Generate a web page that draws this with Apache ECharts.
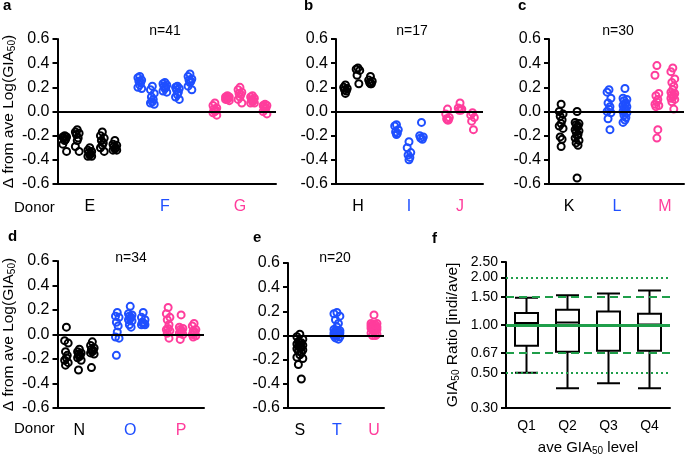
<!DOCTYPE html>
<html><head><meta charset="utf-8">
<script src="https://cdn.jsdelivr.net/npm/echarts@6/dist/echarts.min.js"></script>
<style>html,body{margin:0;padding:0;background:#fff}#c{width:685px;height:458px}</style>
</head><body><div id="c"></div>
<script>
// ---------- data ----------
const donorsA = ['E','F','G'];
const A_E = [[-0.20,-0.21,-0.21,-0.22,-0.23,-0.24,-0.27,-0.33],[-0.15,-0.17,-0.18,-0.19,-0.22,-0.24,-0.29,-0.33],[-0.30,-0.32,-0.33,-0.34,-0.35,-0.36,-0.37,-0.37],[-0.17,-0.20,-0.22,-0.24,-0.26,-0.28,-0.30,-0.33],[-0.24,-0.27,-0.28,-0.29,-0.30,-0.31,-0.32,-0.32]];
const A_F = [[0.29,0.28,0.26,0.25,0.24,0.22,0.20,0.19],[0.21,0.18,0.15,0.12,0.10,0.08,0.07,0.06],[0.24,0.23,0.22,0.21,0.20,0.19,0.17,0.16],[0.21,0.20,0.19,0.18,0.16,0.14,0.12,0.10],[0.31,0.29,0.27,0.26,0.25,0.24,0.21,0.18]];
const A_G = [[0.07,0.05,0.03,0.02,0.01,0.00,-0.01,-0.03],[0.13,0.12,0.12,0.11,0.11,0.10,0.10,0.09],[0.20,0.18,0.16,0.15,0.14,0.12,0.10,0.07],[0.13,0.12,0.11,0.10,0.09,0.08,0.07,0.07],[0.06,0.05,0.05,0.04,0.03,0.02,0.00,-0.02]];

const donorsB = ['H','I','J'];
const B_H = [[0.22,0.20,0.19,0.18,0.17,0.15],[0.36,0.35,0.34,0.30,0.23],[0.29,0.26,0.25,0.24,0.23,0.23]];
const B_I = [[-0.11,-0.12,-0.15,-0.17,-0.18,-0.19],[-0.25,-0.30,-0.34,-0.36,-0.38,-0.40],[-0.09,-0.20,-0.21,-0.22,-0.23]];
const B_J = [[0.02,-0.02,-0.05,-0.06,-0.07,-0.07],[0.07,0.03,0.02,0.01,0.01],[-0.01,-0.03,-0.05,-0.08,-0.15]];

const donorsC = ['K','L','M'];
const C_K = [[0.06,0.00,-0.02,-0.04,-0.07,-0.10,-0.12,-0.14,-0.21,-0.23,-0.29],[0.00,-0.09,-0.10,-0.11,-0.12,-0.13,-0.15,-0.16,-0.17,-0.19,-0.20,-0.22,-0.24,-0.26,-0.28,-0.55]];
const C_L = [[0.18,0.16,0.11,0.07,0.04,0.02,0.00,-0.01,-0.06,-0.15],[0.19,0.11,0.10,0.09,0.07,0.06,0.05,0.04,0.03,0.02,0.01,0.00,-0.01,-0.03,-0.05,-0.07,-0.09]];
const C_M = [[0.38,0.30,0.15,0.13,0.10,0.08,0.06,0.05,0.04,-0.15,-0.22],[0.36,0.33,0.27,0.24,0.21,0.18,0.16,0.15,0.14,0.13,0.12,0.11,0.10,0.08,0.02]];

const donorsD = ['N','O','P'];
const D_N = [[0.06,-0.05,-0.07,-0.14,-0.17,-0.19,-0.21,-0.23,-0.25],[-0.12,-0.14,-0.15,-0.16,-0.17,-0.18,-0.19,-0.21,-0.29],[-0.06,-0.09,-0.11,-0.12,-0.13,-0.14,-0.15,-0.16,-0.27]];
const D_O = [[0.18,0.15,0.14,0.10,0.07,0.02,-0.02,-0.03,-0.17],[0.23,0.17,0.16,0.15,0.14,0.13,0.12,0.11,0.08,0.06],[0.18,0.14,0.12,0.10,0.09,0.09,0.08,0.08]];
const D_P = [[0.22,0.17,0.14,0.12,0.08,0.05,0.04,0.03,0.01,-0.03],[0.16,0.06,0.05,0.04,0.03,0.02,0.01,0.00,-0.04],[0.09,0.07,0.04,0.03,0.02,0.01,0.00,-0.01,-0.02]];

const donorsE = ['S','T','U'];
const E_S = [[0.01,-0.01,-0.03,-0.05,-0.06,-0.06,-0.07,-0.08,-0.09,-0.10,-0.10,-0.11,-0.12,-0.13,-0.14,-0.16,-0.18,-0.19,-0.24,-0.36]];
const E_T = [[0.19,0.18,0.16,0.13,0.10,0.07,0.05,0.04,0.04,0.03,0.03,0.02,0.02,0.01,0.01,0.00,0.00,-0.01,-0.02,-0.03]];
const E_U = [[0.17,0.10,0.10,0.09,0.09,0.08,0.08,0.07,0.07,0.07,0.06,0.06,0.05,0.05,0.04,0.03,0.02,0.01,0.00,0.00]];

const nLabels = ['n=41','n=17','n=30','n=34','n=20'];

const quartiles = ['Q1','Q2','Q3','Q4'];
// [min, Q1, median, Q3, max]
const boxQ1 = [0.50,0.74,1.03,1.19,1.49];
const boxQ2 = [0.40,0.68,1.04,1.25,1.54];
const boxQ3 = [0.43,0.69,1.00,1.22,1.58];
const boxQ4 = [0.40,0.69,1.01,1.18,1.65];
const ratioTicks = [0.30,0.50,0.67,1.00,1.50,2.00,2.50];
const solidRef = [1.00];
const dashedRef = [0.67,1.50];
const dottedRef = [0.50,2.00];

// ---------- style / layout ----------
const FONT = 'Liberation Sans, Arial, Helvetica, sans-serif';
const COLORS = ['#000000','#1f4fff','#ff3d9c'];
const GREEN = '#1f9e4a';
const panels = [
  {groups:[A_E,A_F,A_G], names:donorsA, grid:{left:57,top:39,width:219,height:145}, xmin:-0.43, xmax:2.48, step:0.167, jit:0.025, yName:true},
  {groups:[B_H,B_I,B_J], names:donorsB, grid:{left:336,top:39,width:147,height:145}, xmin:-0.43, xmax:2.45, step:0.245, jit:0.035},
  {groups:[C_K,C_L,C_M], names:donorsC, grid:{left:549,top:39,width:135,height:145}, xmin:-0.42, xmax:2.40, step:0.333, jit:0.04},
  {groups:[D_N,D_O,D_P], names:donorsD, grid:{left:57,top:261,width:147,height:147}, xmin:-0.43, xmax:2.45, step:0.255, jit:0.035, yName:true},
  {groups:[E_S,E_T,E_U], names:donorsE, grid:{left:288,top:263,width:96,height:145}, xmin:-0.32, xmax:2.27, step:0, jit:0.08}
];
const jitPattern = [0,-1,1,-0.5,0.5];

const grids = [], xAxes = [], yAxes = [], series = [];
const axisLineStyle = {color:'#000', width:2};

panels.forEach((p, gi) => {
  grids.push(Object.assign({containLabel:false}, p.grid));
  const rich = {};
  p.names.forEach((n,i)=>{ rich['d'+i] = {color:COLORS[i], fontSize:16, fontFamily:FONT}; });
  xAxes.push({
    gridIndex:gi, type:'value', min:p.xmin, max:p.xmax,
    axisLine:{show:true, onZero:false, lineStyle:axisLineStyle},
    axisTick:{show:false}, splitLine:{show:false},
    axisLabel:{show:true, customValues:[0,1,2], margin:15, fontSize:16, fontFamily:FONT,
      formatter:(v)=>{ const i=Math.round(v); return '{d'+i+'|'+p.names[i]+'}'; }, rich:rich}
  });
  const ya = {
    gridIndex:gi, type:'value', min:-0.6, max:0.6, interval:0.2,
    axisLine:{show:true, onZero:false, lineStyle:axisLineStyle},
    axisTick:{show:true, length:5, lineStyle:{color:'#000', width:2}},
    splitLine:{show:false},
    axisLabel:{margin:8, fontSize:16, color:'#000', fontFamily:FONT,
      formatter:(v)=> Math.abs(v)<1e-9 ? '0.0' : v.toFixed(1)}
  };
  if (p.yName) {
    Object.assign(ya, {
      name:'Δ from ave Log(GIA{sub|50})', nameLocation:'middle', nameRotate:90, nameGap:40,
      nameTextStyle:{fontSize:15.5, color:'#000', fontFamily:FONT,
        rich:{sub:{fontSize:10, fontFamily:FONT, color:'#000', verticalAlign:'bottom', padding:[7,0,0,0]}}}
    });
  }
  yAxes.push(ya);
  p.groups.forEach((cols, g) => {
    const data = [];
    cols.forEach((col, j) => {
      const cx = g + (j - (cols.length-1)/2) * p.step;
      col.forEach((v, k) => data.push([cx + jitPattern[k % 5]*p.jit, v]));
    });
    const s = {
      type:'scatter', xAxisIndex:gi, yAxisIndex:gi, data:data,
      symbol:'circle', symbolSize:7, silent:true, animation:false, z:3,
      itemStyle:{color:'rgba(0,0,0,0)', borderColor:COLORS[g], borderWidth:2, opacity:1}
    };
    if (g === 0) {
      s.markLine = {silent:true, symbol:['none','none'], animation:false, label:{show:false},
        lineStyle:{color:'#000', width:2, type:'solid'}, data:[{yAxis:0}]};
    }
    series.push(s);
  });
});

// panel f
const fi = 5;
grids.push({left:506, top:262, width:164, height:146});
xAxes.push({
  gridIndex:fi, type:'category', data:quartiles,
  axisLine:{show:true, onZero:false, lineStyle:axisLineStyle}, axisTick:{show:false},
  axisLabel:{fontSize:14, color:'#000', margin:11, fontFamily:FONT},
  name:'ave GIA{sub|50} level', nameLocation:'middle', nameGap:31,
  nameTextStyle:{fontSize:15, color:'#000', fontFamily:FONT,
    rich:{sub:{fontSize:10, fontFamily:FONT, color:'#000', verticalAlign:'bottom', padding:[7,0,0,0]}}}
});
yAxes.push({
  gridIndex:fi, type:'log', logBase:10, min:0.3, max:2.5,
  axisLine:{show:true, onZero:false, lineStyle:axisLineStyle},
  axisTick:{show:true, length:5, customValues:ratioTicks, lineStyle:{color:'#000', width:2}},
  axisLabel:{customValues:ratioTicks, margin:8, fontSize:14, color:'#000', fontFamily:FONT, formatter:(v)=>Number(v).toFixed(2)},
  splitLine:{show:false}, minorTick:{show:false},
  name:'GIA{sub|50} Ratio [indi/ave]', nameLocation:'middle', nameRotate:90, nameGap:45,
  nameTextStyle:{fontSize:15.5, color:'#000', fontFamily:FONT,
    rich:{sub:{fontSize:10, fontFamily:FONT, color:'#000', verticalAlign:'bottom', padding:[7,0,0,0]}}}
});
const refData = [];
solidRef.forEach(v=>refData.push({yAxis:v, lineStyle:{color:GREEN, width:3, type:'solid'}}));
dashedRef.forEach(v=>refData.push({yAxis:v, lineStyle:{color:GREEN, width:2, type:[8,5]}}));
dottedRef.forEach(v=>refData.push({yAxis:v, lineStyle:{color:GREEN, width:2, type:[2,3]}}));
series.push({
  type:'line', xAxisIndex:fi, yAxisIndex:fi, data:[], z:1, silent:true, animation:false,
  markLine:{silent:true, symbol:['none','none'], animation:false, label:{show:false}, data:refData}
});
series.push({
  type:'boxplot', xAxisIndex:fi, yAxisIndex:fi, z:3, silent:true, animation:false,
  data:[boxQ1, boxQ2, boxQ3, boxQ4], boxWidth:[23,23],
  itemStyle:{color:'rgba(0,0,0,0)', borderColor:'#000', borderWidth:2}
});

// texts
const letters = [['a',3,6],['b',304,6],['c',518,6],['d',8,237],['e',253,238],['f',432,239]];
const nPos = [[165,31],[412,31],[618,31],[131,258],[335,258]];
const graphic = [];
letters.forEach(([t,x,y])=>graphic.push({type:'text', x:x, y:y, silent:true,
  style:{text:t, font:'bold 15px '+FONT, fill:'#000', align:'left', verticalAlign:'middle'}}));
nLabels.forEach((t,i)=>graphic.push({type:'text', x:nPos[i][0], y:nPos[i][1], silent:true,
  style:{text:t, font:'14px '+FONT, fill:'#000', align:'center', verticalAlign:'middle'}}));
[[14,208],[14,429]].forEach(([x,y])=>graphic.push({type:'text', x:x, y:y, silent:true,
  style:{text:'Donor', font:'15px '+FONT, fill:'#000', align:'left', verticalAlign:'middle'}}));

const chart = echarts.init(document.getElementById('c'), null, {renderer:'canvas'});
chart.setOption({
  animation:false, backgroundColor:'#fff',
  grid:grids, xAxis:xAxes, yAxis:yAxes, series:series, graphic:graphic
});
</script></body></html>
